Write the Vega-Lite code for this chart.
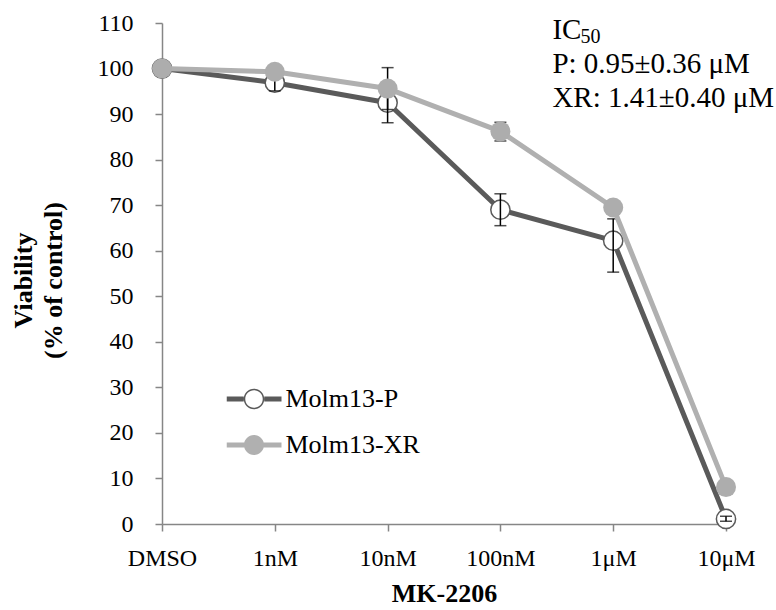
{
  "$schema": "https://vega.github.io/schema/vega-lite/v6.json",
  "width": 564,
  "height": 501,
  "autosize": {"type": "none"},
  "padding": {"left": 162, "top": 23, "right": 50, "bottom": 86},
  "background": "white",
  "datasets": {
    "viab": [
      {"dose": "DMSO", "series": "Molm13-P", "v": 100, "lo": 100, "hi": 100},
      {"dose": "1nM", "series": "Molm13-P", "v": 96.9, "lo": 95.1, "hi": 98.7},
      {"dose": "10nM", "series": "Molm13-P", "v": 92.5, "lo": 88.1, "hi": 96.9},
      {"dose": "100nM", "series": "Molm13-P", "v": 69.0, "lo": 65.5, "hi": 72.5},
      {"dose": "1μM", "series": "Molm13-P", "v": 62.2, "lo": 55.3, "hi": 67.0},
      {"dose": "10μM", "series": "Molm13-P", "v": 1.1, "lo": 0.6, "hi": 1.7},
      {"dose": "DMSO", "series": "Molm13-XR", "v": 100, "lo": 100, "hi": 100},
      {"dose": "1nM", "series": "Molm13-XR", "v": 99.3, "lo": 98.8, "hi": 99.8},
      {"dose": "10nM", "series": "Molm13-XR", "v": 95.6, "lo": 91.0, "hi": 100.2},
      {"dose": "100nM", "series": "Molm13-XR", "v": 86.2, "lo": 84.1, "hi": 88.2},
      {"dose": "1μM", "series": "Molm13-XR", "v": 69.5, "lo": 68.8, "hi": 70.2},
      {"dose": "10μM", "series": "Molm13-XR", "v": 8.1, "lo": 7.4, "hi": 8.8}
    ]
  },
  "data": {"name": "viab"},
  "layer": [
    {
      "transform": [{"filter": "datum.series === 'Molm13-P'"}],
      "mark": {"type": "line", "color": "#5A5A5A", "strokeWidth": 5, "strokeJoin": "round"},
      "encoding": {
        "x": {
          "field": "dose", "type": "ordinal", "title": "MK-2206",
          "sort": ["DMSO", "1nM", "10nM", "100nM", "1μM", "10μM"],
          "scale": {"type": "point", "domain": ["DMSO", "1nM", "10nM", "100nM", "1μM", "10μM"], "padding": 0},
          "axis": {
            "labelAngle": 0, "labelPadding": 15, "labelFont": "Liberation Serif", "labelFontSize": 24, "labelColor": "#000000",
            "titleFont": "Liberation Serif", "titleFontSize": 26, "titleFontWeight": "bold", "titleColor": "#000000",
            "titleBaseline": "alphabetic", "titleY": 77,
            "domainColor": "#868686", "domainWidth": 1.5, "tickColor": "#868686", "tickWidth": 1.5, "tickSize": 7, "grid": false
          }
        },
        "y": {
          "field": "v", "type": "quantitative", "title": ["Viability", "(% of control)"],
          "scale": {"domain": [0, 110], "nice": false, "zero": true},
          "axis": {
            "values": [0, 10, 20, 30, 40, 50, 60, 70, 80, 90, 100, 110],
            "labelPadding": 22, "labelFont": "Liberation Serif", "labelFontSize": 24, "labelColor": "#000000",
            "titleFont": "Liberation Serif", "titleFontSize": 26, "titleFontWeight": "bold", "titleColor": "#000000",
            "titleLineHeight": 30, "titleBaseline": "middle", "titleX": -139, "titleY": 257,
            "domainColor": "#868686", "domainWidth": 1.5, "tickColor": "#868686", "tickWidth": 1.5, "tickSize": 7, "grid": false
          }
        }
      }
    },
    {
      "transform": [{"filter": "datum.series === 'Molm13-P'"}],
      "mark": {"type": "point", "shape": "circle", "size": 370, "filled": true, "fill": "white", "stroke": "#5A5A5A", "strokeWidth": 1.5, "opacity": 1},
      "encoding": {
        "x": {"field": "dose", "type": "ordinal", "title": "MK-2206", "sort": ["DMSO", "1nM", "10nM", "100nM", "1μM", "10μM"]},
        "y": {"field": "v", "type": "quantitative", "title": ["Viability", "(% of control)"]}
      }
    },
    {
      "transform": [{"filter": "datum.series === 'Molm13-P'"}],
      "mark": {"type": "errorbar", "ticks": {"size": 12}, "thickness": 1.5, "color": "#000000"},
      "encoding": {
        "x": {"field": "dose", "type": "ordinal", "title": "MK-2206", "sort": ["DMSO", "1nM", "10nM", "100nM", "1μM", "10μM"]},
        "y": {"field": "lo", "type": "quantitative", "title": ["Viability", "(% of control)"]},
        "y2": {"field": "hi"}
      }
    },
    {
      "transform": [{"filter": "datum.series === 'Molm13-XR'"}],
      "mark": {"type": "line", "color": "#B0B0B0", "strokeWidth": 5, "strokeJoin": "round"},
      "encoding": {
        "x": {"field": "dose", "type": "ordinal", "title": "MK-2206", "sort": ["DMSO", "1nM", "10nM", "100nM", "1μM", "10μM"]},
        "y": {"field": "v", "type": "quantitative", "title": ["Viability", "(% of control)"]}
      }
    },
    {
      "transform": [{"filter": "datum.series === 'Molm13-XR'"}],
      "mark": {"type": "errorbar", "ticks": {"size": 12}, "thickness": 1.5, "color": "#000000"},
      "encoding": {
        "x": {"field": "dose", "type": "ordinal", "title": "MK-2206", "sort": ["DMSO", "1nM", "10nM", "100nM", "1μM", "10μM"]},
        "y": {"field": "lo", "type": "quantitative", "title": ["Viability", "(% of control)"]},
        "y2": {"field": "hi"}
      }
    },
    {
      "transform": [{"filter": "datum.series === 'Molm13-XR'"}],
      "mark": {"type": "point", "shape": "circle", "size": 400, "filled": true, "fill": "#ADADAD", "strokeWidth": 0, "opacity": 1},
      "encoding": {
        "x": {"field": "dose", "type": "ordinal", "title": "MK-2206", "sort": ["DMSO", "1nM", "10nM", "100nM", "1μM", "10μM"]},
        "y": {"field": "v", "type": "quantitative", "title": ["Viability", "(% of control)"]}
      }
    },
    {
      "mark": {"type": "point", "size": 0, "filled": true, "strokeWidth": 0, "opacity": 1},
      "encoding": {
        "x": {"field": "dose", "type": "ordinal", "title": "MK-2206", "sort": ["DMSO", "1nM", "10nM", "100nM", "1μM", "10μM"]},
        "y": {"field": "v", "type": "quantitative", "title": ["Viability", "(% of control)"]},
        "fill": {
          "field": "series", "type": "nominal",
          "scale": {"range": ["#5A5A5A", "#B0B0B0"]},
          "legend": {"orient": "none", "legendX": 64.5, "legendY": 364, "title": null, "symbolSize": 3025, "symbolStrokeWidth": 0, "clipHeight": 24, "rowPadding": 20, "labelFont": "Liberation Serif", "labelFontSize": 26, "labelOffset": 4, "labelColor": "#000000", "padding": 0, "symbolOpacity": 1}
        },
        "shape": {
          "field": "series", "type": "nominal",
          "scale": {"range": [
            "M-1,-0.091L-0.373,-0.091L-0.373,0.091L-1,0.091Z M0.373,-0.091L1,-0.091L1,0.091L0.373,0.091Z M-0.373,0A0.373,0.373,0,1,1,0.373,0A0.373,0.373,0,1,1,-0.373,0Z M-0.318,0A0.318,0.318,0,1,0,0.318,0A0.318,0.318,0,1,0,-0.318,0Z",
            "M-1,-0.091L1,-0.091L1,0.091L-1,0.091Z M-0.364,0A0.364,0.364,0,1,1,0.364,0A0.364,0.364,0,1,1,-0.364,0Z"
          ]},
          "legend": {"orient": "none", "legendX": 64.5, "legendY": 364, "title": null, "symbolSize": 3025, "symbolStrokeWidth": 0, "clipHeight": 24, "rowPadding": 20, "labelFont": "Liberation Serif", "labelFontSize": 26, "labelOffset": 4, "labelColor": "#000000", "padding": 0, "symbolOpacity": 1}
        }
      }
    },
    {
      "data": {"values": [{}]},
      "mark": {"type": "text", "text": "IC", "align": "left", "baseline": "alphabetic", "dx": 52, "font": "Liberation Serif", "fontSize": 29, "color": "#000000"},
      "encoding": {
        "x": {"datum": "100nM", "type": "ordinal", "title": "MK-2206"},
        "y": {"datum": 106.4, "type": "quantitative", "title": ["Viability", "(% of control)"]}
      }
    },
    {
      "data": {"values": [{}]},
      "mark": {"type": "text", "text": "50", "align": "left", "baseline": "alphabetic", "dx": 80, "font": "Liberation Serif", "fontSize": 20, "color": "#000000"},
      "encoding": {
        "x": {"datum": "100nM", "type": "ordinal", "title": "MK-2206"},
        "y": {"datum": 105.5, "type": "quantitative", "title": ["Viability", "(% of control)"]}
      }
    },
    {
      "data": {"values": [{}]},
      "mark": {"type": "text", "text": ["P: 0.95±0.36 μM", "XR: 1.41±0.40 μM"], "lineHeight": 34, "align": "left", "baseline": "alphabetic", "dx": 52, "font": "Liberation Serif", "fontSize": 29, "color": "#000000"},
      "encoding": {
        "x": {"datum": "100nM", "type": "ordinal", "title": "MK-2206"},
        "y": {"datum": 99.1, "type": "quantitative", "title": ["Viability", "(% of control)"]}
      }
    }
  ],
  "config": {
    "view": {"stroke": null},
    "font": "Liberation Serif",
    "style": {
      "guide-label": {"font": "Liberation Serif"},
      "guide-title": {"font": "Liberation Serif"}
    },
    "axis": {"labelFont": "Liberation Serif", "titleFont": "Liberation Serif", "grid": false}
  }
}
